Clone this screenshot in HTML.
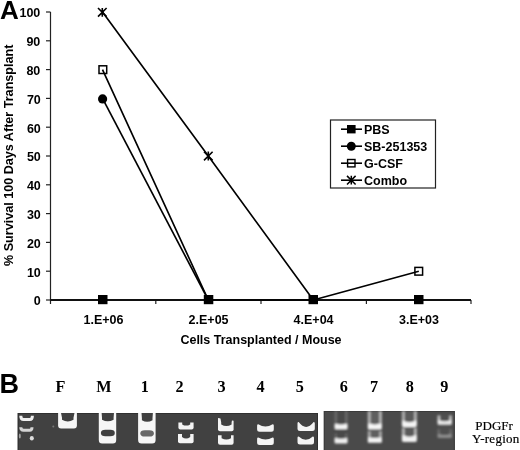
<!DOCTYPE html>
<html><head><meta charset="utf-8">
<style>
html,body{margin:0;padding:0;background:#fff;}
body{width:520px;height:450px;overflow:hidden;position:relative;}
svg{position:absolute;left:0;top:0;filter:grayscale(1) blur(0.3px);}
.s{font-family:"Liberation Sans",sans-serif;font-weight:bold;}
.r{font-family:"Liberation Serif",serif;}
</style></head><body>
<svg width="520" height="450" viewBox="0 0 520 450">
<defs>
<filter id="bl" x="-20%" y="-20%" width="140%" height="140%"><feGaussianBlur stdDeviation="0.6"/></filter>
<filter id="bl2" x="-20%" y="-20%" width="140%" height="140%"><feGaussianBlur stdDeviation="0.35"/></filter>
<filter id="bl3" x="-20%" y="-20%" width="140%" height="140%"><feGaussianBlur stdDeviation="0.9"/></filter>
</defs>
<!-- Panel labels -->
<text class="s" x="0" y="19.3" font-size="26">A</text>
<text class="s" x="-0.5" y="392.5" font-size="27">B</text>

<!-- Y axis title -->
<text class="s" x="12.6" y="155.3" font-size="12.6" text-anchor="middle" transform="rotate(-90 12.6 155.3)">% Survival 100 Days After Transplant</text>

<!-- Y axis labels -->
<g class="s" font-size="12.5" text-anchor="end">
<text x="40.3" y="17.4">100</text>
<text x="40.3" y="46.2">90</text>
<text x="40.3" y="75.0">80</text>
<text x="40.8" y="103.8">70</text>
<text x="40.8" y="132.6">60</text>
<text x="40.8" y="161.4">50</text>
<text x="40.8" y="190.2">40</text>
<text x="40.8" y="219.0">30</text>
<text x="40.8" y="247.8">20</text>
<text x="40.8" y="276.6">10</text>
<text x="40.8" y="305.4">0</text>
</g>

<!-- axes -->
<g stroke="#222" stroke-width="1.2" fill="none">
<line x1="50.5" y1="12" x2="50.5" y2="304"/>
<line x1="46" y1="12" x2="50.5" y2="12"/>
<line x1="46" y1="40.8" x2="50.5" y2="40.8"/>
<line x1="46" y1="69.6" x2="50.5" y2="69.6"/>
<line x1="46" y1="98.4" x2="50.5" y2="98.4"/>
<line x1="46" y1="127.2" x2="50.5" y2="127.2"/>
<line x1="46" y1="156" x2="50.5" y2="156"/>
<line x1="46" y1="184.8" x2="50.5" y2="184.8"/>
<line x1="46" y1="213.6" x2="50.5" y2="213.6"/>
<line x1="46" y1="242.4" x2="50.5" y2="242.4"/>
<line x1="46" y1="271.2" x2="50.5" y2="271.2"/>
<line x1="46" y1="300" x2="50.5" y2="300"/>
<line x1="155.8" y1="300" x2="155.8" y2="304"/>
<line x1="261" y1="300" x2="261" y2="304"/>
<line x1="366.4" y1="300" x2="366.4" y2="304"/>
<line x1="471" y1="300" x2="471" y2="304"/>
</g>
<line x1="50" y1="300" x2="471" y2="300" stroke="#111" stroke-width="2"/>

<!-- data lines -->
<g stroke="#000" stroke-width="1.65" fill="none" stroke-linejoin="round">
<polyline points="102.5,98.4 208.3,300"/>
<polyline points="102.5,69.6 208.3,300 313.3,300 418.8,271.2"/>
<polyline points="102.5,12 208.3,156 313.3,300"/>
</g>

<!-- markers -->
<g fill="#000">
<circle cx="102.6" cy="98.9" r="4.6"/>
<rect x="98" y="295" width="9.5" height="9.2"/>
<rect x="203.8" y="295" width="9.5" height="9.2"/>
<rect x="308.5" y="295" width="9.5" height="9.2"/>
<rect x="414" y="295" width="9.5" height="9.2"/>
</g>
<g fill="none" stroke="#000" stroke-width="1.5">
<rect x="99" y="65.8" width="7.7" height="7.7"/>
<rect x="414.9" y="267.4" width="7.7" height="7.7"/>
</g>
<g stroke="#000" stroke-width="1.6" fill="none">
<path d="M102.3 8v8.7M98 8l8.6 8.6M106.6 8L98 16.6"/>
<path d="M208.3 151.6v9M204 151.8l8.6 8.6M212.6 151.8L204 160.4"/>
</g>

<!-- x labels -->
<g class="s" font-size="12.5" text-anchor="middle">
<text x="103.5" y="323.5">1.E+06</text>
<text x="208.6" y="323.5">2.E+05</text>
<text x="313.6" y="323.5">4.E+04</text>
<text x="419" y="323.5">3.E+03</text>
<text x="261" y="344.3">Cells Transplanted / Mouse</text>
</g>

<!-- legend -->
<rect x="330.5" y="120" width="105" height="68" fill="#fff" stroke="#222" stroke-width="1.2"/>
<g stroke="#000" stroke-width="1.6">
<line x1="341" y1="129.2" x2="362" y2="129.2"/>
<line x1="341" y1="146.2" x2="362" y2="146.2"/>
<line x1="341" y1="163.2" x2="362" y2="163.2"/>
<line x1="341" y1="180.2" x2="362" y2="180.2"/>
</g>
<rect x="347" y="125" width="8.6" height="8.4" fill="#000"/>
<circle cx="351.3" cy="146.2" r="4.5" fill="#000"/>
<rect x="347.6" y="159.5" width="7.4" height="7.4" fill="none" stroke="#000" stroke-width="1.4"/>
<path d="M351.3 175.8v8.8M347 175.9l8.6 8.6M355.6 175.9L347 184.5" stroke="#000" stroke-width="1.5"/>
<g class="s" font-size="12.5">
<text x="364" y="133.5">PBS</text>
<text x="364" y="150.5">SB-251353</text>
<text x="364" y="167.5">G-CSF</text>
<text x="364" y="184.5">Combo</text>
</g>

<!-- Gel lane labels -->
<g class="r" font-weight="bold" font-size="16.2" text-anchor="middle">
<text x="60.5" y="391.6">F</text>
<text x="104" y="391.6">M</text>
<text x="144.8" y="391.6">1</text>
<text x="179.5" y="391.6">2</text>
<text x="221.5" y="391.6">3</text>
<text x="260.6" y="391.6">4</text>
<text x="299.8" y="391.6">5</text>
<text x="343.8" y="391.6">6</text>
<text x="374.1" y="391.6">7</text>
<text x="409.7" y="391.6">8</text>
<text x="444.2" y="391.6">9</text>
</g>
<g class="r" font-size="13" fill="#000" stroke="#000" stroke-width="0.2">
<text x="475.3" y="429.8">PDGFr</text>
<text x="472" y="443.1" letter-spacing="0.25">Y-region</text>
</g>

<!-- gels -->
<rect x="17.7" y="413" width="300.3" height="37" fill="#414141"/>
<rect x="323.8" y="411" width="131" height="39" fill="#4a4a4a"/>
<rect x="18.2" y="413.5" width="299.3" height="37" fill="none" stroke="#303030" stroke-width="1"/>
<rect x="324.3" y="411.5" width="130" height="39" fill="none" stroke="#3a3a3a" stroke-width="1"/>
<clipPath id="gc"><rect x="17.7" y="413" width="300.3" height="37"/><rect x="323.8" y="411" width="131" height="39"/></clipPath>
<g clip-path="url(#gc)"><g filter="url(#bl)"><path d="M20.8 415.8Q20.8 419.5 23.5 419.5H29.8Q32.4 419.5 32.4 415.8" fill="none" stroke="#eeeeee" stroke-width="3"/><path d="M20.8 427.3Q20.8 430.2 23.5 430.2H29.8Q32 430.2 32 427.3" fill="none" stroke="#d4d4d4" stroke-width="3"/><ellipse cx="19.8" cy="436.1" rx="1.0" ry="2.5" fill="#a0a0a0"/><ellipse cx="31.8" cy="438.2" rx="2.0" ry="2.2" fill="#dddddd"/><ellipse cx="53.3" cy="426.5" rx="1.0" ry="1.0" fill="#777777"/><path d="M58.1 412.5L76.9 412.5V425.6Q76.9 428.6 73.9 428.6H61.1Q58.1 428.6 58.1 425.6Z" fill="#f6f6f6"/><path d="M60.7 411.5L62.0 417.8V419.8Q67.8 423.2 73.5 419.8V417.8L74.8 411.5Z" fill="#414141"/><path d="M98.8 412.5L116.2 412.5V440.1Q116.2 443.6 112.8 443.6H102.2Q98.8 443.6 98.8 440.1Z" fill="#f6f6f6"/><path d="M101.5 411.5L102.0 417.8V419.8Q107.8 422.8 113.6 419.8V417.8L114.1 411.5Z" fill="#414141"/><rect x="100.9" y="429.7" width="13.9" height="6.6" rx="4.5" ry="3.2" fill="#414141"/><path d="M138.1 412.5L155.6 412.5V440.1Q155.6 443.6 152.1 443.6H141.6Q138.1 443.6 138.1 440.1Z" fill="#f6f6f6"/><path d="M141.4 411.5L141.9 418.2V420.2Q147.2 423.4 152.5 420.2V418.2L153.0 411.5Z" fill="#414141"/><rect x="140.3" y="430.2" width="13.6" height="6.3" rx="4.5" ry="3.1" fill="#686868"/><path d="M178.4 422.4L193.6 422.4V427.6Q193.6 429.6 191.6 429.6H180.4Q178.4 429.6 178.4 427.6Z" fill="#f4f4f4"/><path d="M182.2 421.4L182.2 422.4V424.4Q186.2 426.8 190.2 424.4V422.4L190.2 421.4Z" fill="#414141"/><path d="M178.0 434.0L193.6 434.0V441.2Q193.6 443.2 191.6 443.2H180.0Q178.0 443.2 178.0 441.2Z" fill="#f4f4f4"/><path d="M182.0 433.0L182.0 435.0V437.0Q186.1 440.2 190.2 437.0V435.0L190.2 433.0Z" fill="#414141"/><path d="M218.0 418.0L233.6 420.8V429.2Q233.6 431.2 231.6 431.2H220.0Q218.0 431.2 218.0 429.2Z" fill="#f4f4f4"/><path d="M220.2 417.0L221.2 422.5V424.5Q226.4 427.5 231.6 424.5V422.5L232.6 417.0Z" fill="#414141"/><path d="M218.0 435.2L233.6 435.2V442.8Q233.6 444.8 231.6 444.8H220.0Q218.0 444.8 218.0 442.8Z" fill="#f4f4f4"/><path d="M221.6 434.2L221.6 436.2V438.2Q226.3 441.0 231.0 438.2V436.2L231.0 434.2Z" fill="#414141"/><path d="M257.1 425.5Q257.1 424.3 258.3 424.3Q265.5 428.9 272.6 424.3Q273.8 424.3 273.8 425.5V429.2Q273.8 431.7 271.3 431.7H259.6Q257.1 431.7 257.1 429.2Z" fill="#f4f4f4"/><path d="M257.1 438.8Q257.1 437.6 258.3 437.6Q265.5 441.6 272.6 437.6Q273.8 437.6 273.8 438.8V442.5Q273.8 445.0 271.3 445.0H259.6Q257.1 445.0 257.1 442.5Z" fill="#f4f4f4"/><path d="M297.5 423.3Q297.5 422.1 298.7 422.1Q306.1 431.9 313.6 422.1Q314.8 422.1 314.8 423.3V428.5Q314.8 431.0 312.3 431.0H300.0Q297.5 431.0 297.5 428.5Z" fill="#f4f4f4"/><path d="M297.5 437.7Q297.5 436.5 298.7 436.5Q305.8 443.1 312.8 436.5Q314.0 436.5 314.0 437.7V442.0Q314.0 444.5 311.5 444.5H300.0Q297.5 444.5 297.5 442.0Z" fill="#f4f4f4"/></g><g filter="url(#bl3)"><rect x="334.5" y="411.0" width="13.1" height="32.0" fill="#494949"/><rect x="367.8" y="411.0" width="14.1" height="32.0" fill="#5e5e5e"/><rect x="401.9" y="411.0" width="15.0" height="31.0" fill="#5a5a5a"/><rect x="437.5" y="414.0" width="14.4" height="24.0" fill="#505050"/><rect x="334.5" y="411.0" width="2.6" height="14.0" fill="#686868"/><rect x="345.0" y="411.0" width="2.6" height="14.0" fill="#686868"/><path d="M334.5 425.0Q334.5 423.8 335.7 423.8Q341.1 425.4 346.4 423.8Q347.6 423.8 347.6 425.0V427.7Q347.6 429.2 346.1 429.2H336.0Q334.5 429.2 334.5 427.7Z" fill="#f4f4f4"/><rect x="334.5" y="433.5" width="2.6" height="5.5" fill="#626262"/><rect x="345.0" y="433.5" width="2.6" height="5.5" fill="#626262"/><path d="M334.5 439.2Q334.5 438.0 335.7 438.0Q341.1 439.6 346.4 438.0Q347.6 438.0 347.6 439.2V441.9Q347.6 443.4 346.1 443.4H336.0Q334.5 443.4 334.5 441.9Z" fill="#f0f0f0"/><rect x="367.8" y="411.0" width="2.8" height="14.0" fill="#b4b4b4"/><rect x="379.1" y="411.0" width="2.8" height="14.0" fill="#b4b4b4"/><path d="M367.8 424.8Q367.8 423.6 369.0 423.6Q374.9 425.2 380.7 423.6Q381.9 423.6 381.9 424.8V427.7Q381.9 429.2 380.4 429.2H369.3Q367.8 429.2 367.8 427.7Z" fill="#f6f6f6"/><rect x="367.8" y="431.2" width="2.8" height="6.8" fill="#a8a8a8"/><rect x="379.1" y="431.2" width="2.8" height="6.8" fill="#a8a8a8"/><path d="M367.8 438.5Q367.8 437.3 369.0 437.3Q374.9 438.7 380.7 437.3Q381.9 437.3 381.9 438.5V441.2Q381.9 442.7 380.4 442.7H369.3Q367.8 442.7 367.8 441.2Z" fill="#f4f4f4"/><rect x="401.9" y="411.0" width="2.8" height="11.0" fill="#b0b0b0"/><rect x="414.1" y="411.0" width="2.8" height="11.0" fill="#b0b0b0"/><path d="M401.9 421.8Q401.9 420.6 403.1 420.6Q409.4 424.0 415.7 420.6Q416.9 420.6 416.9 421.8V424.9Q416.9 426.9 414.9 426.9H403.9Q401.9 426.9 401.9 424.9Z" fill="#f4f4f4"/><rect x="401.9" y="428.1" width="2.8" height="7.9" fill="#b4b4b4"/><rect x="414.1" y="428.1" width="2.8" height="7.9" fill="#b4b4b4"/><path d="M401.9 436.2Q401.9 435.0 403.1 435.0Q409.4 438.6 415.7 435.0Q416.9 435.0 416.9 436.2V439.9Q416.9 441.9 414.9 441.9H403.9Q401.9 441.9 401.9 439.9Z" fill="#f2f2f2"/><rect x="437.5" y="415.6" width="2.6" height="5.4" fill="#c0c0c0"/><rect x="449.3" y="415.6" width="2.6" height="5.4" fill="#c0c0c0"/><path d="M437.5 421.2Q437.5 420.0 438.7 420.0Q444.7 422.4 450.7 420.0Q451.9 420.0 451.9 421.2V422.9Q451.9 424.4 450.4 424.4H439.0Q437.5 424.4 437.5 422.9Z" fill="#ececec"/><rect x="437.5" y="429.4" width="2.4" height="5.1" fill="#6a6a6a"/><rect x="449.5" y="429.4" width="2.4" height="5.1" fill="#6a6a6a"/><path d="M437.5 435.0Q437.5 433.8 438.7 433.8Q444.7 436.2 450.7 433.8Q451.9 433.8 451.9 435.0V436.6Q451.9 438.1 450.4 438.1H439.0Q437.5 438.1 437.5 436.6Z" fill="#8c8c8c"/></g></g>

</svg>
</body></html>
